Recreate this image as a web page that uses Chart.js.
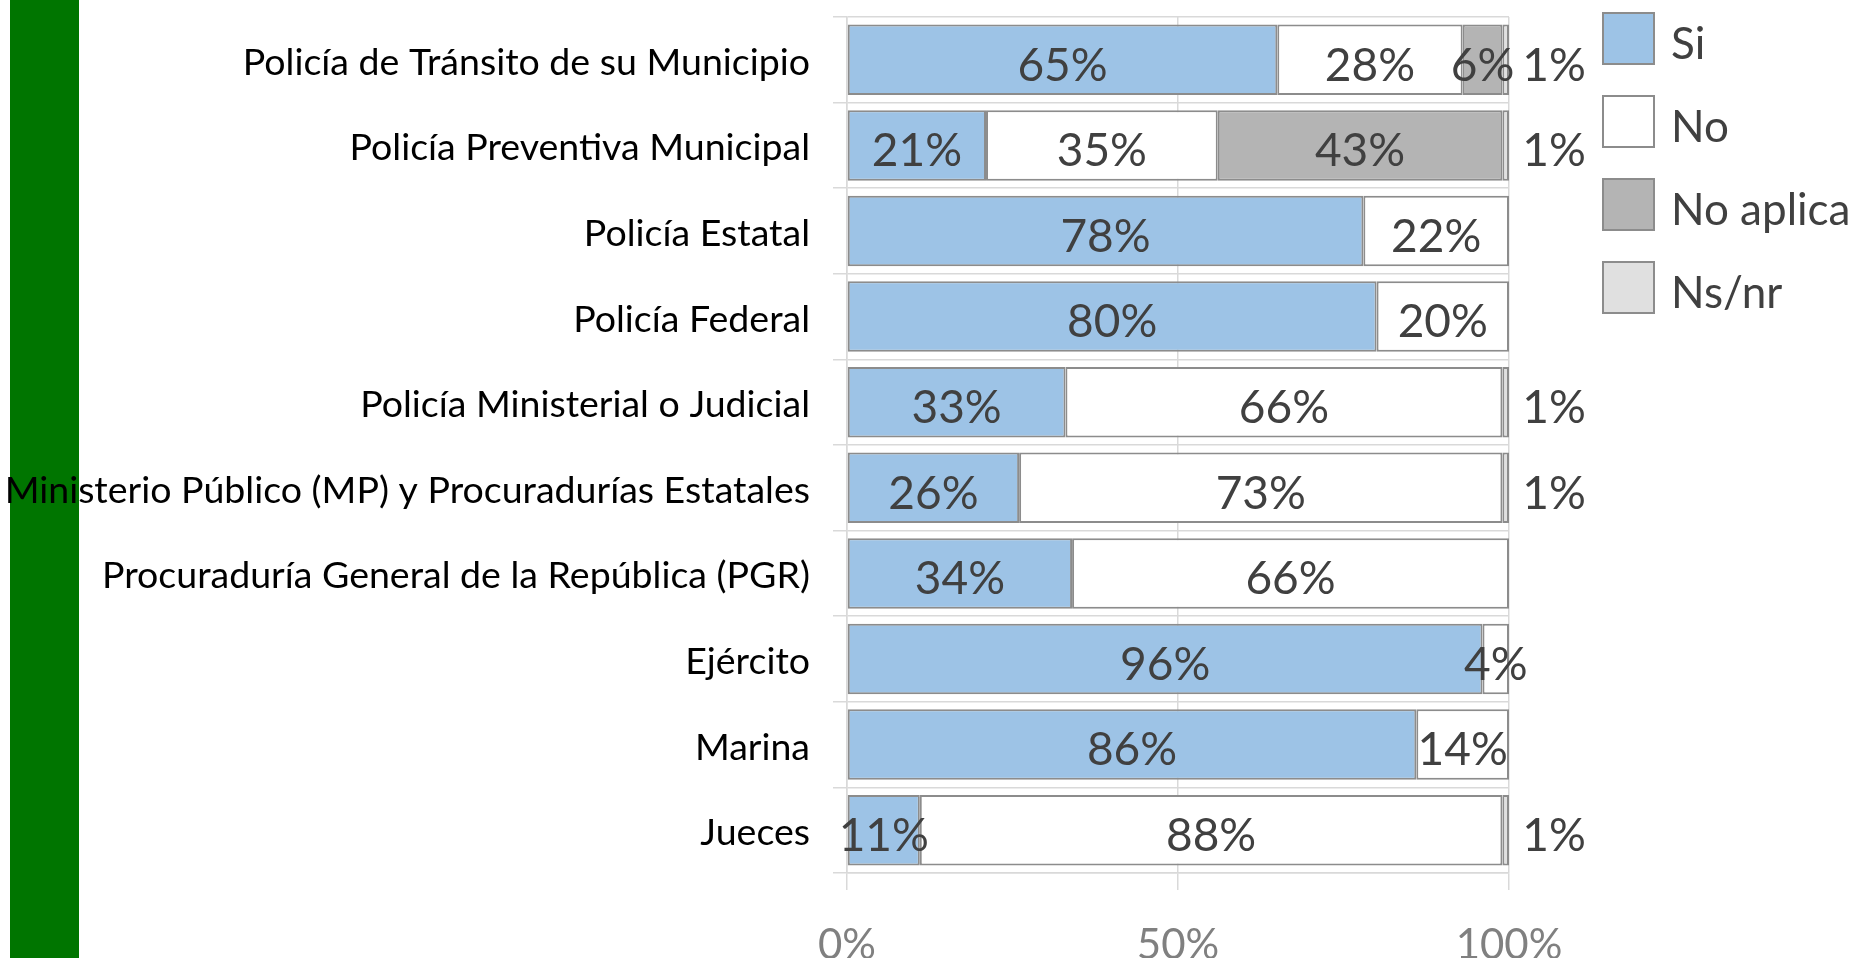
<!DOCTYPE html>
<html lang="es">
<head>
<meta charset="utf-8">
<title>Confianza en instituciones</title>
<script src="https://cdn.jsdelivr.net/npm/chart.js@4.4.1/dist/chart.umd.min.js"></script>
<style>
    html, body { margin: 0; padding: 0; background: #fff; }
    #lienzo { position: relative; width: 1856px; height: 958px; overflow: hidden; }
    #franja { position: absolute; left: 10px; top: 0; width: 69px; height: 958px; background: #007500; }
    #grafica { position: absolute; left: 0; top: 0; }
    #leyenda { position: absolute; left: 1602px; top: 12px; font-family: Lato, sans-serif; font-size: 44px; color: #404040; }
    .item { display: flex; align-items: center; height: 53px; margin-bottom: 30px; }
    .caja { width: 49px; height: 49px; border: 2px solid #8c8c8c; margin-right: 16px; }
    .item span { position: relative; top: 3px; }
</style>
</head>
<body>
<div id="lienzo">
    <div id="franja"></div>
    <canvas id="grafica" width="1856" height="958"></canvas>
    <div id="leyenda"></div>
</div>
<script>
// Datos
const categorias = [
    'Policía de Tránsito de su Municipio',
    'Policía Preventiva Municipal',
    'Policía Estatal',
    'Policía Federal',
    'Policía Ministerial o Judicial',
    'Ministerio Público (MP) y Procuradurías Estatales',
    'Procuraduría General de la República (PGR)',
    'Ejército',
    'Marina',
    'Jueces'
];
const si        = [65, 21, 78, 80, 33, 26, 34, 96, 86, 11];
const no        = [28, 35, 22, 20, 66, 73, 66, 4, 14, 88];
const noAplica  = [6, 43, 0, 0, 0, 0, 0, 0, 0, 0];
const nsnr      = [1, 1, 0, 0, 1, 1, 0, 0, 0, 1];
const ticksX    = [0, 50, 100];

const series  = ['Si', 'No', 'No aplica', 'Ns/nr'];
const colores = ['#9dc3e6', '#ffffff', '#b4b4b4', '#e0e0e0'];

// Etiquetas de valor dentro de las barras (Ns/nr va afuera, a la derecha)
const etiquetasPlugin = {
    id: 'etiquetas',
    afterDatasetsDraw(chart) {
        const ctx = chart.ctx;
        const xScale = chart.scales.x;
        ctx.save();
        ctx.font = '46px Lato';
        ctx.fillStyle = '#404040';
        ctx.textAlign = 'center';
        ctx.textBaseline = 'middle';
        chart.data.datasets.forEach((ds, i) => {
            const meta = chart.getDatasetMeta(i);
            meta.data.forEach((bar, j) => {
                const v = ds.data[j];
                if (!v) return;
                const x = i === 3 ? xScale.right + 45 : (bar.x + bar.base) / 2;
                ctx.fillText(v + '%', x, bar.y + 6);
            });
        });
        ctx.restore();
    }
};

const valores = [si, no, noAplica, nsnr];

new Chart(document.getElementById('grafica'), {
    type: 'bar',
    data: {
        labels: categorias,
        datasets: series.map((nombre, i) => ({
            label: nombre,
            data: valores[i],
            backgroundColor: colores[i],
            borderColor: '#8c8c8c',
            borderWidth: 2,
            borderSkipped: false,
            barPercentage: 0.824,
            categoryPercentage: 1
        }))
    },
    options: {
        indexAxis: 'y',
        responsive: false,
        animation: false,
        devicePixelRatio: 1,
        layout: {
            padding: { left: 0, right: 347, top: 17, bottom: 0 }
        },
        plugins: {
            legend: { display: false },
            tooltip: { enabled: false }
        },
        scales: {
            x: {
                stacked: true,
                min: 0,
                max: 100,
                afterBuildTicks: (scale) => {
                    scale.ticks = ticksX.map(v => ({ value: v }));
                },
                afterFit: (scale) => {
                    scale.height = 85;
                    scale.paddingLeft = 0;
                    scale.paddingRight = 0;
                },
                grid: {
                    color: '#d9d9d9',
                    lineWidth: 1.5,
                    tickLength: 17
                },
                border: { color: '#d9d9d9', width: 1.5 },
                ticks: {
                    color: '#808080',
                    font: { family: 'Lato', size: 42 },
                    padding: 30,
                    callback: (v) => v + '%'
                }
            },
            y: {
                stacked: true,
                afterFit: (scale) => {
                    scale.width = 847;
                    scale.paddingTop = 0;
                    scale.paddingBottom = 0;
                },
                grid: {
                    color: '#d9d9d9',
                    lineWidth: 1.5,
                    tickLength: 14,
                    offset: true
                },
                border: { color: '#d9d9d9', width: 1.5 },
                ticks: {
                    color: '#000000',
                    font: { family: 'Lato', size: 37.5 },
                    padding: 23,
                    labelOffset: 3
                }
            }
        }
    },
    plugins: [etiquetasPlugin]
});

// Leyenda
const leyenda = document.getElementById('leyenda');
series.forEach((nombre, i) => {
    const item = document.createElement('div');
    item.className = 'item';
    item.innerHTML = '<div class="caja" style="background:' + colores[i] + '"></div><span>' + nombre + '</span>';
    leyenda.appendChild(item);
});
</script>
</body>
</html>
